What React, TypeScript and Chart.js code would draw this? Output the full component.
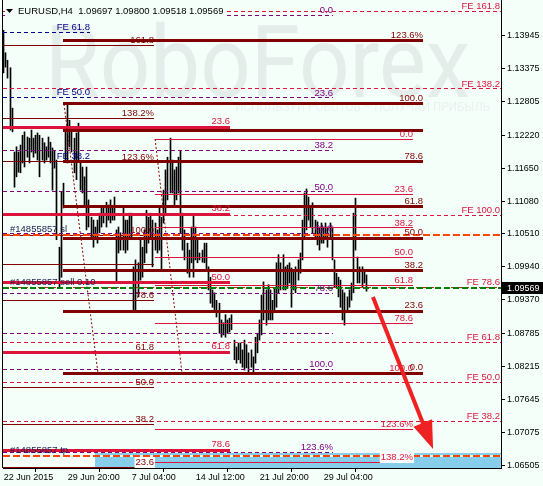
import React, { useEffect, useRef } from "react";
import { Chart, registerables } from "chart.js";

Chart.register(...registerables);

// ---------- data ----------
const symbol = "EURUSD,H4";
const lastOHLC = [1.09697, 1.098, 1.09518, 1.09569];

const barHighs = [
  1.1404, 1.1365, 1.1352, 1.1339, 1.1269, 1.1193, 1.1202, 1.1193, 1.1205, 1.1222,
  1.1228, 1.1219, 1.1217, 1.1231, 1.1217, 1.1222, 1.1226, 1.1222, 1.1217, 1.1209,
  1.1202, 1.1219, 1.121, 1.12, 1.1196, 1.1179, 1.1028, 1.1124, 1.1139, 1.1236,
  1.1274, 1.1248, 1.1231, 1.1217, 1.1226, 1.1243, 1.1174, 1.1167, 1.115, 1.1167,
  1.111, 1.108, 1.1075, 1.1063, 1.1075, 1.1087, 1.1098, 1.1096, 1.1106, 1.1101,
  1.111, 1.1098, 1.1115, 1.1058, 1.1063, 1.1053, 1.1098, 1.1075, 1.1075, 1.1087,
  1.1087, 1.0994, 1.1006, 1.1001, 1.1041, 1.1028, 1.1058, 1.1092, 1.108, 1.1087,
  1.1075, 1.107, 1.1058, 1.1098, 1.108, 1.1127, 1.1162, 1.1184, 1.1217, 1.1179,
  1.1162, 1.1167, 1.1184, 1.1196, 1.1087, 1.1058, 1.1035, 1.1023, 1.1063, 1.1084,
  1.1063, 1.1041, 1.1018, 1.1023, 1.1035, 1.1035, 1.0994, 1.0976, 1.0954, 1.0949,
  1.0936, 1.0931, 1.0902, 1.0897, 1.0911, 1.0902, 1.0905, 1.0911, 1.0867, 1.0855,
  1.0862, 1.0862, 1.085, 1.0867, 1.0859, 1.0845, 1.085, 1.0838, 1.0872, 1.0879,
  1.0902, 1.0945, 1.0968, 1.0954, 1.0963, 1.0954, 1.0936, 1.0957, 1.1001, 1.1015,
  1.1001, 1.1015, 1.0994, 1.0997, 1.1001, 1.0992, 1.0989, 1.0994, 1.1006, 1.1018,
  1.1075, 1.1122, 1.1129, 1.1115, 1.1098, 1.1105, 1.1075, 1.1072, 1.1063, 1.107,
  1.1063, 1.107, 1.1063, 1.107, 1.1063, 1.1006, 1.0983, 1.0976, 1.0971, 1.0954,
  1.0949, 1.0942, 1.0954, 1.0966, 1.1087, 1.1113, 1.1011, 1.0994, 1.0994, 1.0989,
  1.098,
];
const barLows = [
  1.133, 1.134, 1.1321, 1.1231, 1.1228, 1.1132, 1.115, 1.1158, 1.1157, 1.1174,
  1.1167, 1.1184, 1.1174, 1.1193, 1.1184, 1.1191, 1.1179, 1.115, 1.1179, 1.1174,
  1.1179, 1.1184, 1.1174, 1.1127, 1.1165, 1.1041, 1.0959, 1.0976, 1.1096, 1.1176,
  1.1174, 1.1202, 1.1193, 1.1157, 1.1145, 1.1179, 1.1127, 1.1122, 1.1098, 1.1058,
  1.1063, 1.1044, 1.1028, 1.1041, 1.1035, 1.1053, 1.1063, 1.107, 1.1063, 1.1075,
  1.107, 1.1075, 1.1075, 1.0966, 1.1018, 1.1023, 1.1023, 1.1018, 1.1023, 1.1041,
  1.1041, 1.0919, 1.0919, 1.0942, 1.0971, 1.0976, 1.1001, 1.1018, 1.1035, 1.1046,
  1.0994, 1.1023, 1.1018, 1.1023, 1.0989, 1.107, 1.1087, 1.111, 1.1122, 1.1122,
  1.1098, 1.111, 1.1122, 1.1053, 1.1023, 1.1006, 1.0983, 1.0976, 1.1001, 1.0976,
  1.1006, 1.1001, 1.1006, 1.1002, 1.1001, 1.0989, 1.0954, 1.0931, 1.0924, 1.0919,
  1.0907, 1.0879, 1.0872, 1.0876, 1.0872, 1.0879, 1.0881, 1.0885, 1.0833, 1.0827,
  1.0833, 1.0827, 1.082, 1.0815, 1.0819, 1.081, 1.082, 1.081, 1.0827, 1.0845,
  1.0867, 1.0876, 1.0902, 1.0893, 1.0902, 1.0902, 1.0902, 1.0919, 1.0924, 1.0949,
  1.0954, 1.0954, 1.0954, 1.0957, 1.0966, 1.0924, 1.0954, 1.0949, 1.0971, 1.0983,
  1.1006, 1.1046, 1.1058, 1.1075, 1.1063, 1.1053, 1.1046, 1.1032, 1.1023, 1.1035,
  1.1035, 1.1041, 1.1028, 1.1046, 1.1006, 1.0959, 1.0959, 1.0942, 1.0924, 1.0902,
  1.0893, 1.0919, 1.0924, 1.0936, 1.0949, 1.1023, 1.0966, 1.0966, 1.0959, 1.0966,
  1.09518,
];

const xTickBars = [0, 30, 60, 90, 120, 150];
const xTickLabels = ["22 Jun 2015", "29 Jun 20:00", "7 Jul 04:00", "14 Jul 12:00", "21 Jul 20:00", "29 Jul 04:00"];
const yTickValues = [
  1.13945, 1.13375, 1.12805, 1.1222, 1.1165, 1.1108, 1.1051, 1.0994, 1.0937, 1.08785,
  1.08215, 1.07645, 1.07075, 1.06505,
];

// Fibonacci expansion (FE) levels, to the right edge
const feLevels = ["FE 161.8", "FE 138.2", "FE 100.0", "FE 78.6", "FE 61.8", "FE 50.0", "FE 38.2"];
const fePrices = [1.14373, 1.13022, 1.10838, 1.0959, 1.08637, 1.07944, 1.07268];
const feBars = [-1, 240];

const navyLevels = ["FE 61.8", "FE 50.0", "FE 38.2"];
const navyPrices = [1.14009, 1.12883, 1.11774];
const navyBars = [-1, 40.5];

const purpleLevels = ["0.0", "23.6", "38.2", "50.0", "61.8", "78.6", "", "100.0", "123.6%"];
const purplePrices = [1.14304, 1.12866, 1.11964, 1.11237, 1.10526, 1.09486, 1.08793, 1.08169, 1.06731];
const purpleBars = [-1, 154.4];

const thickMaroonLevels = ["123.6%", "100.0", "", "78.6", "61.8", "50.0", "38.2", "23.6", "0.0"];
const thickMaroonPrices = [1.13862, 1.12762, 1.12294, 1.11757, 1.10977, 1.10439, 1.09868, 1.09174, 1.081];
const thickMaroonBars = [27.8, 196.6];

const thinCrimsonLevels = ["0.0", "23.6", "38.2", "50.0", "61.8", "78.6", "100.0", "123.6%", "138.2%"];
const thinCrimsonPrices = [1.12155, 1.11202, 1.10613, 1.1011, 1.09625, 1.08966, 1.081, 1.07129, 1.06557];
const thinCrimsonBars = [71, 191.9];

const thickCrimsonLevels = ["23.6", "38.2", "50.0", "61.8", "78.6"];
const thickCrimsonPrices = [1.12363, 1.10855, 1.0966, 1.08464, 1.06765];
const thickCrimsonBars = [-1, 106.1];

const thinMaroonLevels = ["161.8", "138.2%", "123.6%", "100.0", "", "78.6", "61.8", "50.0", "38.2", "23.6"];
const thinMaroonPrices = [1.13784, 1.12519, 1.11757, 1.10491, 1.09972, 1.09365, 1.08464, 1.07857, 1.07216, 1.06471];
const thinMaroonBars = [-1, 70.5];

const orderLabels = ["#14855857 sl", "#14855857 sell 0.10", "#14855857 tp"];
const orderPrices = [1.10491, 1.09569, 1.06661];

const trendBars = [[28.3, 44.2], [71, 83.6]];
const trendPrices = [[1.12762, 1.081], [1.12155, 1.081]];

const zoneBars = [42.8, 240];
const zonePrices = [1.06713, 1.06];

const arrowBars = [173.1, 201.3];
const arrowPrices = [1.09417, 1.06783];

// ---------- styles ----------
const BG = "#F5FFFA";
const FONT = "'Liberation Sans', Arial, sans-serif";
const STY: Record<string, { color: string; width: number; dash: number[] }> = {
  fe: { color: "#DC143C", width: 1, dash: [4, 3] },
  navy: { color: "#00008B", width: 1, dash: [4, 3] },
  purple: { color: "#800080", width: 1, dash: [4, 3] },
  thickMaroon: { color: "#800000", width: 3, dash: [] },
  thinCrimson: { color: "#DC143C", width: 1, dash: [] },
  thickCrimson: { color: "#DC143C", width: 3, dash: [] },
  thinMaroon: { color: "#800000", width: 1, dash: [] },
};

const sets = [
  { key: "purple", levels: purpleLevels, prices: purplePrices, bars: purpleBars },
  { key: "navy", levels: navyLevels, prices: navyPrices, bars: navyBars },
  { key: "fe", levels: feLevels, prices: fePrices, bars: feBars },
  { key: "thinMaroon", levels: thinMaroonLevels, prices: thinMaroonPrices, bars: thinMaroonBars },
  { key: "thinCrimson", levels: thinCrimsonLevels, prices: thinCrimsonPrices, bars: thinCrimsonBars },
  { key: "thickCrimson", levels: thickCrimsonLevels, prices: thickCrimsonPrices, bars: thickCrimsonBars },
  { key: "thickMaroon", levels: thickMaroonLevels, prices: thickMaroonPrices, bars: thickMaroonBars },
];

const crisp = (v: number, w: number) => (w % 2 === 1 ? Math.round(v - 0.5) + 0.5 : Math.round(v));

const overlayPlugin = {
  id: "mt4overlay",
  beforeDraw(c: any) {
    const ctx = c.ctx;
    ctx.save();
    ctx.fillStyle = BG;
    ctx.fillRect(0, 0, c.width, c.height);
    ctx.restore();
  },
  beforeDatasetsDraw(c: any) {
    const ctx = c.ctx;
    const a = c.chartArea;
    const X = c.scales.x, Y = c.scales.y;
    // snap the 1px price bars to whole pixels
    const meta = c.getDatasetMeta(0);
    meta.data.forEach((el: any) => {
      el.x = Math.floor(el.x) + 0.5;
      el.width = 1;
    });
    ctx.save();
    ctx.beginPath();
    ctx.rect(a.left, a.top, a.right - a.left, a.bottom - a.top);
    ctx.clip();
    // watermark
    ctx.fillStyle = "#E5EDEB";
    ctx.font = "100px Roboto, 'Open Sans', sans-serif";
    ctx.textBaseline = "alphabetic";
    ctx.textAlign = "left";
    const w = ctx.measureText("RoboForex").width;
    ctx.save();
    ctx.translate(45, 97);
    ctx.scale(425 / w, 1.0);
    ctx.fillText("RoboForex", 0, 0);
    ctx.restore();
    ctx.fillStyle = "#EAF1EF";
    ctx.font = "12px Roboto, sans-serif";
    const sub = "ИСПОЛЬЗУЙ РОБОТОВ – ПОЛУЧАЙ ПРИБЫЛЬ";
    const sw = ctx.measureText(sub).width;
    ctx.save();
    ctx.translate(235, 111);
    ctx.scale(255 / sw, 1.0);
    ctx.fillText(sub, 0, 0);
    ctx.restore();
    // target zone rectangle
    const zx0 = X.getPixelForValue(zoneBars[0]);
    const zx1 = X.getPixelForValue(zoneBars[1]);
    const zy0 = Y.getPixelForValue(zonePrices[0]);
    const zy1 = Y.getPixelForValue(zonePrices[1]);
    ctx.fillStyle = "#87CEEB";
    ctx.fillRect(Math.round(zx0), Math.round(zy0), zx1 - zx0, zy1 - zy0);
    ctx.restore();
  },
  afterDatasetsDraw(c: any) {
    const ctx = c.ctx;
    const a = c.chartArea;
    const X = c.scales.x, Y = c.scales.y;
    const zoneTop = Y.getPixelForValue(zonePrices[0]);
    const zoneLeft = X.getPixelForValue(zoneBars[0]);
    ctx.save();
    ctx.beginPath();
    ctx.rect(a.left, a.top, a.right - a.left, a.bottom - a.top);
    ctx.clip();

    // fibo level lines
    sets.forEach((s) => {
      const st = STY[s.key];
      const x0 = Math.max(X.getPixelForValue(s.bars[0]), a.left);
      const x1 = Math.min(X.getPixelForValue(s.bars[1]), a.right);
      ctx.strokeStyle = st.color;
      ctx.lineWidth = st.width;
      ctx.setLineDash(st.dash);
      s.prices.forEach((p) => {
        const y = crisp(Y.getPixelForValue(p), st.width);
        ctx.beginPath();
        ctx.moveTo(Math.round(x0), y);
        ctx.lineTo(Math.round(x1), y);
        ctx.stroke();
      });
    });

    // dotted trend lines
    ctx.strokeStyle = "#8B0000";
    ctx.lineWidth = 1;
    ctx.setLineDash([2, 2]);
    trendBars.forEach((tb, i) => {
      ctx.beginPath();
      ctx.moveTo(X.getPixelForValue(tb[0]), Y.getPixelForValue(trendPrices[i][0]));
      ctx.lineTo(X.getPixelForValue(tb[1]), Y.getPixelForValue(trendPrices[i][1]));
      ctx.stroke();
    });

    // order lines
    const ox0 = a.left;
    const ox1 = a.right;
    orderPrices.forEach((p, i) => {
      const y = Math.round(Y.getPixelForValue(p));
      const green = orderLabels[i].includes("sell");
      if (i === 2) {
        ctx.setLineDash([]);
        ctx.strokeStyle = "#FFFFFF";
        ctx.lineWidth = 2;
        ctx.beginPath();
        ctx.moveTo(zoneLeft, y);
        ctx.lineTo(ox1, y);
        ctx.stroke();
      }
      ctx.strokeStyle = green ? "#008000" : "#FF4500";
      ctx.lineWidth = 2;
      ctx.setLineDash(green ? [6, 3] : [7, 3]);
      ctx.beginPath();
      ctx.moveTo(ox0, y);
      ctx.lineTo(ox1, y);
      ctx.stroke();
    });
    ctx.setLineDash([]);

    // labels
    ctx.font = "9.5px " + FONT;
    ctx.textBaseline = "alphabetic";
    sets.forEach((s) => {
      const st = STY[s.key];
      const x1 = Math.min(X.getPixelForValue(s.bars[1]), a.right - 1);
      ctx.textAlign = "right";
      s.levels.forEach((lab, i) => {
        if (!lab) return;
        const y = Y.getPixelForValue(s.prices[i]);
        const base = Math.round(y - st.width / 2 - 1.5);
        const tw = ctx.measureText(lab).width;
        if (base + 2 > zoneTop && x1 - tw > zoneLeft) {
          ctx.fillStyle = "#FFFFFF";
          ctx.fillRect(x1 - tw - 1, base - 8, tw + 2, 11);
        }
        ctx.fillStyle = st.color;
        ctx.fillText(lab, x1, base);
      });
    });
    ctx.textAlign = "left";
    ctx.fillStyle = "#1C1C50";
    orderPrices.forEach((p, i) => {
      const y = Y.getPixelForValue(p);
      ctx.fillText(orderLabels[i], a.left + 7, Math.round(y - 3));
    });

    // forecast arrow
    const ax0 = X.getPixelForValue(arrowBars[0]);
    const ay0 = Y.getPixelForValue(arrowPrices[0]);
    const ax1 = X.getPixelForValue(arrowBars[1]);
    const ay1 = Y.getPixelForValue(arrowPrices[1]);
    const dx = ax1 - ax0, dy = ay1 - ay0;
    const len = Math.hypot(dx, dy);
    const ux = dx / len, uy = dy / len;
    const head = 28, half = 10;
    const bx = ax1 - ux * head, by = ay1 - uy * head;
    ctx.strokeStyle = "#EE2222";
    ctx.fillStyle = "#EE2222";
    ctx.lineWidth = 4;
    ctx.lineCap = "butt";
    ctx.beginPath();
    ctx.moveTo(ax0, ay0);
    ctx.lineTo(bx + ux * 2, by + uy * 2);
    ctx.stroke();
    ctx.beginPath();
    ctx.moveTo(ax1, ay1);
    ctx.lineTo(bx - uy * half, by + ux * half);
    ctx.lineTo(bx + uy * half, by - ux * half);
    ctx.closePath();
    ctx.fill();
    ctx.restore();

    // frame left
    ctx.save();
    ctx.strokeStyle = "#000";
    ctx.lineWidth = 1;
    ctx.beginPath();
    ctx.moveTo(Math.round(a.left) - 0.5, a.top);
    ctx.lineTo(Math.round(a.left) - 0.5, a.bottom);
    ctx.stroke();

    // title
    ctx.font = "9.5px " + FONT;
    const title = symbol + "  " + lastOHLC.map((v) => v.toFixed(5)).join(" ");
    const tw = ctx.measureText(title).width;
    ctx.fillStyle = BG;
    ctx.fillRect(5, 3, tw + 16, 13);
    ctx.fillStyle = "#000";
    ctx.beginPath();
    ctx.moveTo(6, 9);
    ctx.lineTo(13, 9);
    ctx.lineTo(9.5, 13);
    ctx.closePath();
    ctx.fill();
    ctx.textAlign = "left";
    ctx.textBaseline = "alphabetic";
    ctx.fillText(title, 18, 14);
    ctx.restore();
  },
  afterDraw(c: any) {
    const ctx = c.ctx;
    const a = c.chartArea;
    const Y = c.scales.y;
    const y = Math.round(Y.getPixelForValue(lastOHLC[3]));
    ctx.save();
    ctx.fillStyle = "#000";
    ctx.fillRect(a.right + 1, y - 6, c.width - a.right - 1, 12);
    ctx.fillStyle = "#FFF";
    ctx.font = "9px " + FONT;
    ctx.textAlign = "left";
    ctx.textBaseline = "middle";
    ctx.fillText(lastOHLC[3].toFixed(5), a.right + 6, y + 0.5);
    ctx.restore();
  },
};

export default function App() {
  const ref = useRef<HTMLCanvasElement | null>(null);
  useEffect(() => {
    document.body.style.margin = "0";
    const canvas = ref.current;
    if (!canvas) return;
    const pxPerBar = 64 / 30;
    const xMin = -0.3;
    const xMax = xMin + 498 / pxPerBar;
    const chart = new Chart(canvas, {
      type: "bar",
      data: {
        datasets: [
          {
            data: barHighs.map((h, i) => ({ x: i, y: [barLows[i], h] })) as any,
            backgroundColor: "#000000",
            borderWidth: 0,
            barThickness: 1,
          },
        ],
      },
      options: {
        animation: false,
        responsive: false,
        maintainAspectRatio: false,
        devicePixelRatio: 1,
        layout: { padding: { left: 3, top: 0, right: 0, bottom: 0 } },
        plugins: { legend: { display: false }, tooltip: { enabled: false } },
        scales: {
          x: {
            type: "linear",
            min: xMin,
            max: xMax,
            offset: false,
            grid: { display: true, drawOnChartArea: false, drawTicks: true, tickLength: 4, color: "#000" },
            border: { display: true, color: "#000" },
            ticks: {
              autoSkip: false,
              maxRotation: 0,
              minRotation: 0,
              align: "start",
              padding: 0,
              color: "#000",
              font: { family: FONT, size: 9 },
              callback: (v: any) => {
                const k = xTickBars.indexOf(Number(v));
                return k >= 0 ? xTickLabels[k] : "";
              },
            },
            afterBuildTicks: (s: any) => {
              s.ticks = xTickBars.map((v) => ({ value: v }));
            },
            afterFit: (s: any) => {
              s.height = 18;
              s.paddingLeft = 0;
              s.paddingRight = 0;
              s.paddingTop = 0;
              s.paddingBottom = 0;
            },
          } as any,
          y: {
            type: "linear",
            position: "right",
            min: 1.06454,
            max: 1.14564,
            grid: { display: true, drawOnChartArea: false, drawTicks: true, tickLength: 4, color: "#000" },
            border: { display: true, color: "#000" },
            ticks: {
              autoSkip: false,
              padding: 2,
              color: "#000",
              font: { family: FONT, size: 9 },
              callback: (v: any) => Number(v).toFixed(5),
            },
            afterBuildTicks: (s: any) => {
              s.ticks = yTickValues.map((v) => ({ value: v }));
            },
            afterFit: (s: any) => {
              s.width = 42;
              s.paddingLeft = 0;
              s.paddingRight = 0;
              s.paddingTop = 0;
              s.paddingBottom = 0;
            },
          } as any,
        },
      },
      plugins: [overlayPlugin],
    });
    return () => chart.destroy();
  }, []);
  return (
    <div style={{ width: 543, height: 486 }}>
      <canvas ref={ref} width={543} height={486} style={{ display: "block", width: 543, height: 486 }} />
    </div>
  );
}
